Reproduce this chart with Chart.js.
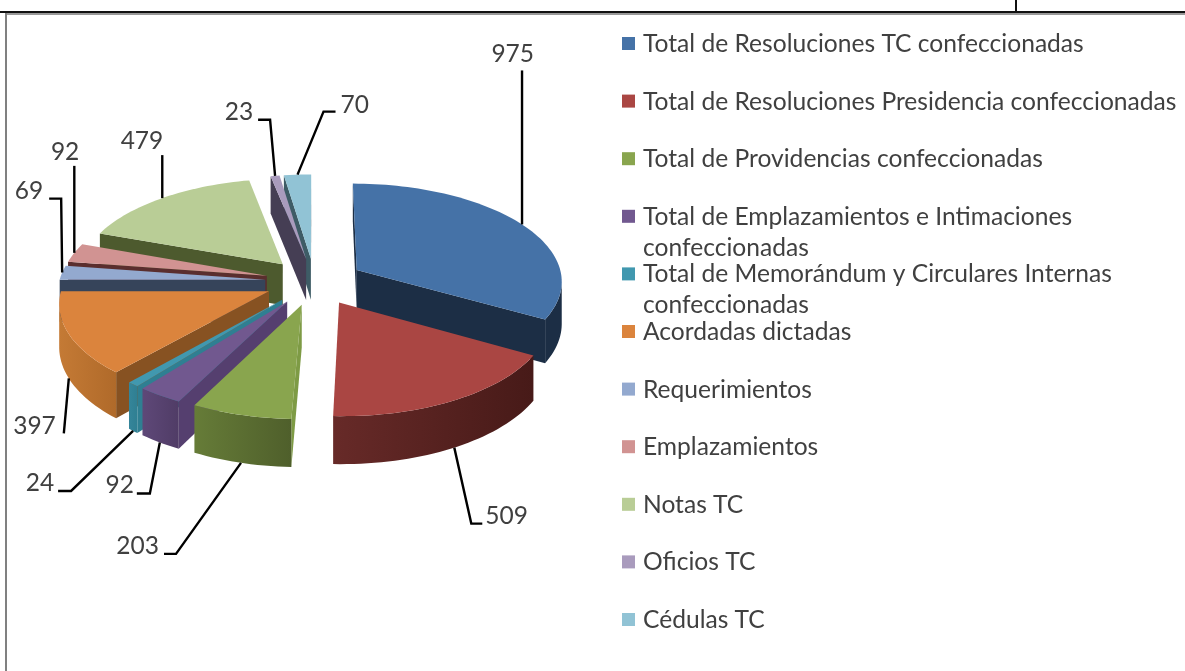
<!DOCTYPE html>
<html>
<head>
<meta charset="utf-8">
<title>Resoluciones</title>
<script src="https://cdn.jsdelivr.net/npm/chart.js@4"></script>
<style>
  html, body { margin: 0; padding: 0; background: #fff; overflow: hidden; }
  #wrap { position: relative; width: 1185px; height: 671px; }
  .rule { position: absolute; }
</style>
</head>
<body>
<div id="wrap">
  <canvas id="pieChart" width="1185" height="671"></canvas>
  <div class="rule" style="left:0;top:11px;width:1185px;height:2px;background:#111"></div>
  <div class="rule" style="left:6px;top:13px;width:1179px;height:2px;background:#999"></div>
  <div class="rule" style="left:5px;top:13px;width:2px;height:658px;background:#808080"></div>
  <div class="rule" style="left:1015px;top:0;width:2px;height:12px;background:#111"></div>
</div>
<script>
const categories = [
  "Total de Resoluciones TC confeccionadas",
  "Total de Resoluciones Presidencia confeccionadas",
  "Total de Providencias confeccionadas",
  ["Total de Emplazamientos e Intimaciones", "confeccionadas"],
  ["Total de Memorándum y Circulares Internas", "confeccionadas"],
  "Acordadas dictadas",
  "Requerimientos",
  "Emplazamientos",
  "Notas TC",
  "Oficios TC",
  "Cédulas TC"
];
const values = [975, 509, 203, 92, 24, 397, 69, 92, 479, 23, 70];

const topColors = ["#4572A7", "#AA4643", "#89A54E", "#71588F", "#4198AF", "#DB843D", "#93A9CF", "#D19392", "#B9CD96", "#A99BBD", "#91C3D5"];
const sideColors = ["#1C2E45", "#4A1C1A", "#7E9B45", "#553F6F", "#2F7F92", "#875222", "#36445A", "#5A2E2E", "#4D5A2E", "#453E54", "#3E5C66"];
const outerFrom = ["#1C2E45", "#672A28", "#667C38", "#5E4878", "#35859A", "#C47A35", "#36445A", "#5A2E2E", "#4D5A2E", "#453E54", "#3E5C66"];
const outerTo = ["#1C2E45", "#471A18", "#4F5F2B", "#503C66", "#2F7F92", "#B06A2A", "#36445A", "#5A2E2E", "#4D5A2E", "#453E54", "#3E5C66"];

// leader bends relative to the slice anchor, then where the number sits relative to the last bend
const leaderBends = [
  [[0, -154]],
  [[17, 76], [28, 76]],
  [[-65, 91], [-77, 91]],
  [[-10, 51], [-23, 51]],
  [[-62, 60], [-75, 60]],
  [[-5, 55]],
  [[-1, -74], [-13, -74]],
  [[0, -87]],
  [[0, -43]],
  [[-5, -56], [-17, -56]],
  [[26, -63], [38, -63]]
];
const labelOffsets = [
  [12, -16], [3, -8], [-5, -8], [-3, -8], [-4, -8], [-8, -7],
  [-6, -8], [5, -14], [1, -14], [-5, -8], [5, -7]
];
const labelAligns = ["right", "left", "right", "right", "right", "right", "right", "right", "right", "right", "left"];

const TILT = 0.473;   // vertical squash of the pie plane
const PERSP = 0.103;  // how much nearer slices grow
const EXPLODE = 0.24; // slice pull-out, in radii
const DEPTH = 42;     // wall height in px

const pie3d = {
  id: "pie3d",
  beforeDatasetsDraw(chart) {
    const ctx = chart.ctx;
    const arcs = chart.getDatasetMeta(0).data;

    function project(arc, u, v, down) {
      const f = 1 / (1 - PERSP * v);
      return {
        x: arc.x + arc.outerRadius * u * f,
        y: arc.y + arc.outerRadius * TILT * v * f + (down ? DEPTH * f : 0)
      };
    }

    function fillPoly(pts, color) {
      ctx.beginPath();
      pts.forEach((p, n) => n ? ctx.lineTo(p.x, p.y) : ctx.moveTo(p.x, p.y));
      ctx.closePath();
      ctx.fillStyle = color;
      ctx.fill();
    }

    const order = arcs.map((_, i) => i).sort((a, b) =>
      Math.sin((arcs[a].startAngle + arcs[a].endAngle) / 2) - Math.sin((arcs[b].startAngle + arcs[b].endAngle) / 2));

    order.forEach(i => {
      const arc = arcs[i];
      const mid = (arc.startAngle + arc.endAngle) / 2;
      const ax = EXPLODE * Math.cos(mid), ay = EXPLODE * Math.sin(mid);
      const steps = Math.max(3, Math.ceil((arc.endAngle - arc.startAngle) / 0.03));
      const rim = [];
      for (let s = 0; s <= steps; s++) {
        const a = arc.startAngle + (arc.endAngle - arc.startAngle) * s / steps;
        rim.push([ax + Math.cos(a), ay + Math.sin(a)]);
      }
      const apex = [ax, ay];

      const wall = (p, q, color) => fillPoly([
        project(arc, p[0], p[1]), project(arc, q[0], q[1]),
        project(arc, q[0], q[1], true), project(arc, p[0], p[1], true)
      ], color);
      const facing = (p, q) => project(arc, q[0], q[1]).x < project(arc, p[0], p[1]).x;

      if (facing(apex, rim[0])) wall(apex, rim[0], sideColors[i]);
      if (facing(rim[steps], apex)) wall(rim[steps], apex, sideColors[i]);

      // the curved wall is one polygon with a left to right gradient
      const run = rim.filter((p, s) => (s < steps && facing(p, rim[s + 1])) || (s > 0 && facing(rim[s - 1], p)));
      if (run.length > 1) {
        const upper = run.map(p => project(arc, p[0], p[1]));
        const lower = run.map(p => project(arc, p[0], p[1], true)).reverse();
        const xs = upper.map(p => p.x);
        const grad = ctx.createLinearGradient(Math.min(...xs), 0, Math.max(...xs), 0);
        grad.addColorStop(0, outerFrom[i]);
        grad.addColorStop(1, outerTo[i]);
        fillPoly(upper.concat(lower), grad);
      }

      fillPoly([apex, ...rim].map(p => project(arc, p[0], p[1])), arc.options.backgroundColor);
    });

    // leader lines and numbers, anchored at each slice's mid angle
    ctx.textBaseline = "middle";
    ctx.font = "24.5px Lato";
    arcs.forEach((arc, i) => {
      const mid = (arc.startAngle + arc.endAngle) / 2;
      const u = (1 + EXPLODE) * Math.cos(mid), v = (1 + EXPLODE) * Math.sin(mid);
      const start = project(arc, u, v, v > 0);
      ctx.beginPath();
      ctx.moveTo(start.x, start.y);
      let last = start;
      leaderBends[i].forEach(b => {
        last = { x: start.x + b[0], y: start.y + b[1] };
        ctx.lineTo(last.x, last.y);
      });
      ctx.strokeStyle = "#000";
      ctx.lineWidth = 2.4;
      ctx.stroke();
      const off = labelOffsets[i];
      ctx.fillStyle = "#404040";
      ctx.textAlign = labelAligns[i];
      ctx.fillText(String(values[i]), last.x + off[0], last.y + off[1]);
    });

    // legend column
    ctx.textAlign = "left";
    ctx.font = "24.6px Lato";
    chart.data.labels.forEach((label, i) => {
      const y = 44 + 57.6 * i;
      ctx.fillStyle = topColors[i];
      ctx.fillRect(622, y - 7, 13, 13);
      ctx.fillStyle = "#404040";
      [].concat(label).forEach((line, n) => ctx.fillText(line, 643, y + n * 31));
    });
    return false;
  }
};

new Chart(document.getElementById("pieChart"), {
  type: "pie",
  data: {
    labels: categories,
    datasets: [{ data: values, backgroundColor: topColors, borderWidth: 0 }]
  },
  options: {
    responsive: false,
    animation: false,
    // puts the pie centre at 314.5,281.5 with a 206px radius
    layout: { padding: { left: 108.5, right: 664.5, top: 75.5, bottom: 183.5 } },
    plugins: { legend: { display: false }, tooltip: { enabled: false } }
  },
  plugins: [pie3d]
});
</script>
</body>
</html>
